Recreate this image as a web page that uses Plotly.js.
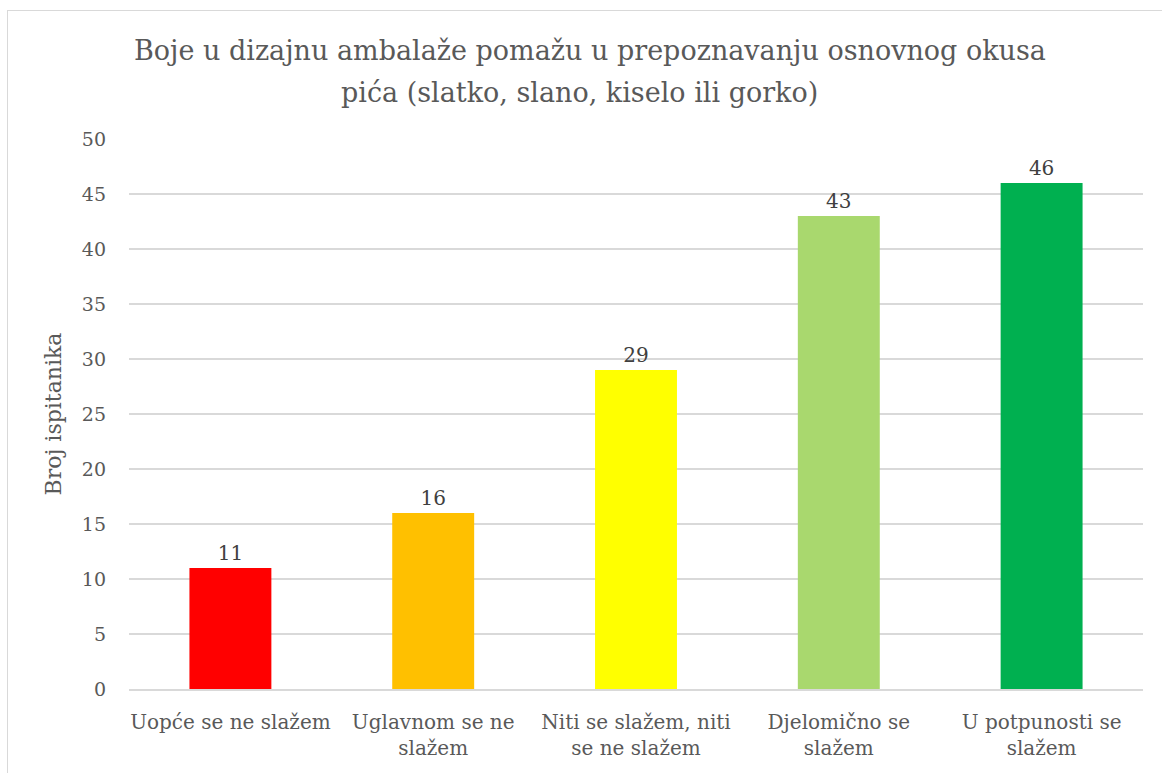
<!DOCTYPE html>
<html>
<head>
<meta charset="utf-8">
<script src="https://cdn.plot.ly/plotly-3.0.1.min.js"></script>
<style>
html,body{margin:0;padding:0;background:#fff;}
#frame{position:absolute;left:7px;top:10px;width:1170px;height:780px;border-left:1px solid #d9d9d9;border-top:1px solid #d9d9d9;pointer-events:none;z-index:5;}
#chart{position:absolute;left:0;top:0;width:1162px;height:773px;}
</style>
</head>
<body>
<div id="chart"></div>
<div id="frame"></div>
<script>
const categories = [
  "Uopće se ne slažem",
  "Uglavnom se ne<br>slažem",
  "Niti se slažem, niti<br>se ne slažem",
  "Djelomično se<br>slažem",
  "U potpunosti se<br>slažem"
];
const values = [11, 16, 29, 43, 46];
const barColors = ["#FF0000", "#FFC000", "#FFFF00", "#A9D86E", "#00B050"];
const yTicks = [0, 5, 10, 15, 20, 25, 30, 35, 40, 45, 50];
const titleLine1 = "Boje u dizajnu ambalaže pomažu u prepoznavanju osnovnog okusa";
const titleLine2 = "pića (slatko, slano, kiselo ili gorko)";
const yTitle = "Broj ispitanika";

const FONT = "DejaVu Serif, Liberation Serif, serif";

const trace = {
  type: "bar",
  x: categories,
  y: values,
  marker: {color: barColors, line: {width: 0}},
  text: values.map(String),
  textposition: "outside",
  cliponaxis: false,
  textfont: {family: FONT, size: 20, color: "#404040"},
  hoverinfo: "x+y"
};

const layout = {
  width: 1162,
  height: 773,
  margin: {l: 129, r: 19, t: 138.5, b: 84, pad: 0},
  paper_bgcolor: "#ffffff",
  plot_bgcolor: "#ffffff",
  bargap: 0.596,
  showlegend: false,
  font: {family: FONT, color: "#595959", size: 19},
  title: {
    text: titleLine1,
    font: {family: FONT, size: 27, color: "#595959"},
    x: 0.4546, xref: "paper", xanchor: "center",
    y: 0.934, yref: "container", yanchor: "middle"
  },
  annotations: [{
    text: titleLine2,
    showarrow: false,
    xref: "paper", yref: "paper",
    x: 0.4438, xanchor: "center",
    y: 1.0845, yanchor: "middle",
    font: {family: FONT, size: 27, color: "#595959"}
  }],
  xaxis: {
    type: "category",
    showgrid: false,
    showline: true,
    linecolor: "#d9d9d9",
    linewidth: 1.5,
    ticks: "",
    ticklabelstandoff: 14,
    tickfont: {family: FONT, size: 20, color: "#595959"},
    zeroline: false,
    automargin: false
  },
  yaxis: {
    range: [0, 50],
    tickvals: yTicks,
    ticktext: yTicks.map(String),
    showgrid: true,
    gridcolor: "#d9d9d9",
    gridwidth: 1.3,
    zeroline: false,
    showline: false,
    ticks: "",
    ticklabelstandoff: 22,
    tickfont: {family: FONT, size: 19, color: "#595959"},
    title: {text: yTitle, font: {family: FONT, size: 22, color: "#595959"}, standoff: 14},
    automargin: false
  }
};

Plotly.newPlot("chart", [trace], layout, {displayModeBar: false, staticPlot: true});
</script>
</body>
</html>
